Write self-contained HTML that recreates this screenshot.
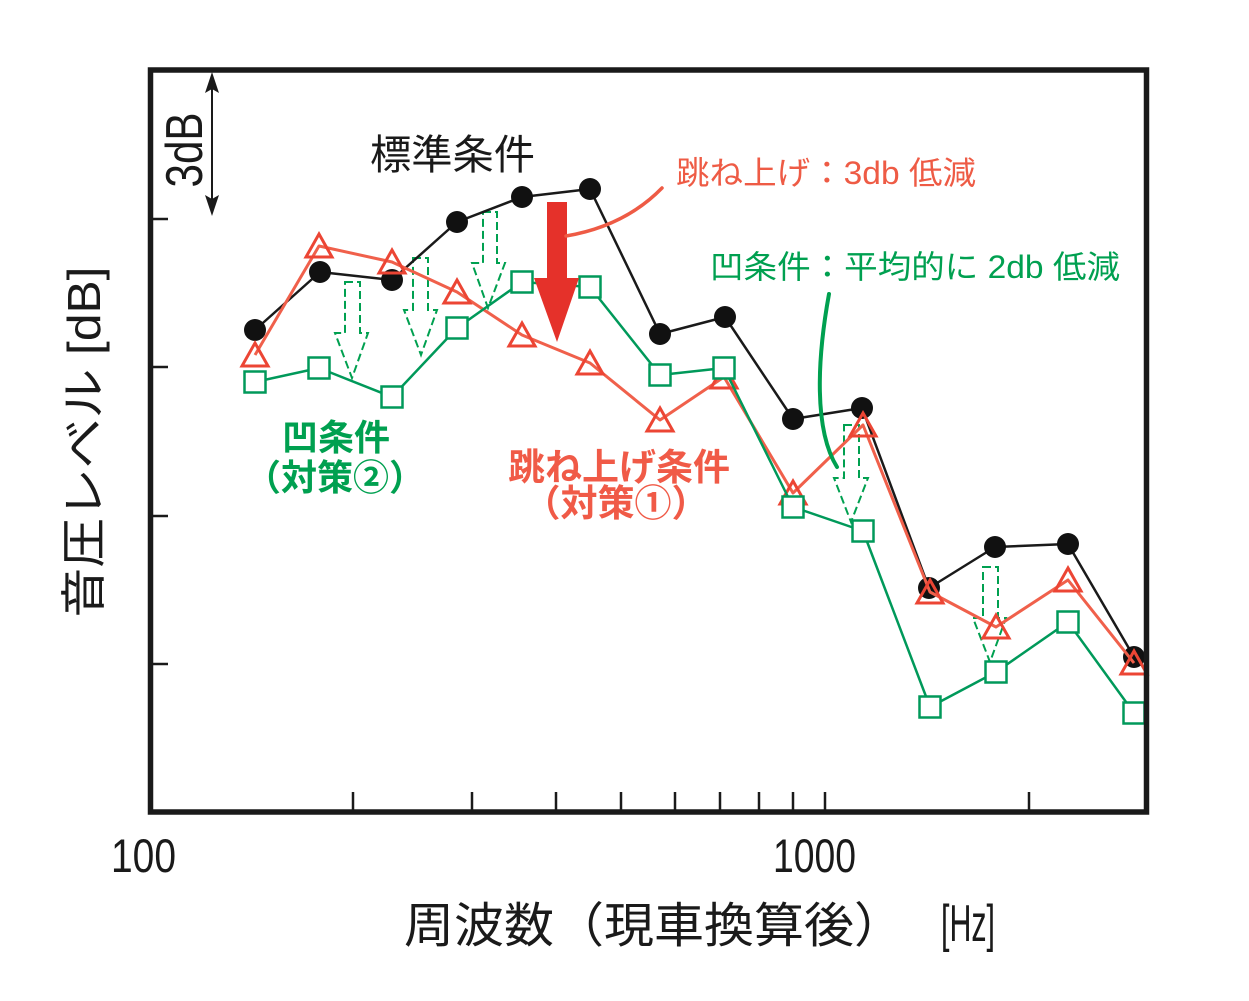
<!DOCTYPE html>
<html>
<head>
<meta charset="utf-8">
<style>
html,body{margin:0;padding:0;background:#fff;}
svg{display:block;}
.jp{font-family:"Liberation Sans","Noto Sans CJK JP",sans-serif;}
</style>
</head>
<body>
<svg width="1249" height="1001" viewBox="0 0 1249 1001" xmlns="http://www.w3.org/2000/svg">
<rect x="0" y="0" width="1249" height="1001" fill="#fff"/>

<!-- ticks -->
<g stroke="#1a1a1a" stroke-width="2.5">
  <line x1="150" y1="219" x2="168" y2="219"/>
  <line x1="150" y1="367" x2="168" y2="367"/>
  <line x1="150" y1="516" x2="168" y2="516"/>
  <line x1="150" y1="664" x2="168" y2="664"/>
  <line x1="353" y1="812" x2="353" y2="792"/>
  <line x1="472" y1="812" x2="472" y2="792"/>
  <line x1="556" y1="812" x2="556" y2="792"/>
  <line x1="621" y1="812" x2="621" y2="792"/>
  <line x1="675" y1="812" x2="675" y2="792"/>
  <line x1="720" y1="812" x2="720" y2="792"/>
  <line x1="759" y1="812" x2="759" y2="792"/>
  <line x1="793" y1="812" x2="793" y2="792"/>
  <line x1="825" y1="812" x2="825" y2="792"/>
  <line x1="1029" y1="812" x2="1029" y2="792"/>
</g>

<!-- 3dB double arrow -->
<line x1="212" y1="80" x2="212" y2="208" stroke="#1a1a1a" stroke-width="2"/>
<polygon points="212,72 219,93 212,89 205,93" fill="#1a1a1a"/>
<polygon points="212,216 219,195 212,199 205,195" fill="#1a1a1a"/>
<text transform="translate(202,150) rotate(-90)" text-anchor="middle" font-family="Liberation Sans, sans-serif" font-size="52" textLength="75" lengthAdjust="spacingAndGlyphs" fill="#1a1a1a">3dB</text>

<!-- dashed hollow arrows -->
<g fill="none" stroke="#00a050" stroke-width="2" stroke-dasharray="8,4">
  <path d="M345,282 L360,282 L360,333 L368,333 L352,378 L335,333 L345,333 Z"/>
  <path d="M413,258 L428,258 L428,310 L437,310 L421,355 L404,310 L413,310 Z"/>
  <path d="M483,212 L497,212 L497,263 L505,263 L488,308 L472,263 L483,263 Z"/>
  <path d="M844,425 L859,425 L859,478 L868,478 L851,522 L834,478 L844,478 Z"/>
  <path d="M983,567 L998,567 L998,618 L1006,618 L990,662 L973,618 L983,618 Z"/>
</g>

<!-- black series -->
<polyline fill="none" stroke="#1a1a1a" stroke-width="2.5" stroke-linejoin="round"
  points="255,330 320,272 392,280 457,222 522,197 590,189 660,334 725,317 793,419 862,408 929,588 995,547 1068,544 1134,657"/>
<g fill="#111">
  <circle cx="255" cy="330" r="11"/><circle cx="320" cy="272" r="11"/>
  <circle cx="392" cy="280" r="11"/><circle cx="457" cy="222" r="11"/>
  <circle cx="522" cy="197" r="11"/><circle cx="590" cy="189" r="11"/>
  <circle cx="660" cy="334" r="11"/><circle cx="725" cy="317" r="11"/>
  <circle cx="793" cy="419" r="11"/><circle cx="862" cy="408" r="11"/>
  <circle cx="929" cy="588" r="11"/><circle cx="995" cy="547" r="11"/>
  <circle cx="1068" cy="544" r="11"/><circle cx="1134" cy="657" r="11"/>
</g>

<!-- red series -->
<polyline fill="none" stroke="#f0604b" stroke-width="3" stroke-linejoin="round"
  points="255,355 319,246 392,262 457,292 522,335 590,363 660,420 724,377 793,493 863,425 930,592 996,627 1068,580 1134,663"/>
<g fill="none" stroke="#ec4534" stroke-width="3" stroke-linejoin="miter">
  <polygon points="255,343 268,366 242,366"/>
  <polygon points="319,234 332,257 306,257"/>
  <polygon points="392,250 405,273 379,273"/>
  <polygon points="457,280 470,303 444,303"/>
  <polygon points="522,323 535,346 509,346"/>
  <polygon points="590,351 603,374 577,374"/>
  <polygon points="660,408 673,431 647,431"/>
  <polygon points="724,365 737,388 711,388"/>
  <polygon points="793,481 806,504 780,504"/>
  <polygon points="863,413 876,436 850,436"/>
  <polygon points="930,580 943,603 917,603"/>
  <polygon points="996,615 1009,638 983,638"/>
  <polygon points="1068,568 1081,591 1055,591"/>
  <polygon points="1134,651 1147,674 1121,674"/>
</g>

<!-- green series -->
<polyline fill="none" stroke="#00995a" stroke-width="2.5" stroke-linejoin="round"
  points="255,382 319,368 392,397 457,328 522,282 590,287 660,375 724,368 793,507 863,531 930,707 996,672 1068,622 1134,713"/>
<g fill="#fff" stroke="#00995a" stroke-width="2.5">
  <rect x="244.5" y="371.5" width="21" height="21"/>
  <rect x="308.5" y="357.5" width="21" height="21"/>
  <rect x="381.5" y="386.5" width="21" height="21"/>
  <rect x="446.5" y="317.5" width="21" height="21"/>
  <rect x="511.5" y="271.5" width="21" height="21"/>
  <rect x="579.5" y="276.5" width="21" height="21"/>
  <rect x="649.5" y="364.5" width="21" height="21"/>
  <rect x="713.5" y="357.5" width="21" height="21"/>
  <rect x="782.5" y="496.5" width="21" height="21"/>
  <rect x="852.5" y="520.5" width="21" height="21"/>
  <rect x="919.5" y="696.5" width="21" height="21"/>
  <rect x="985.5" y="661.5" width="21" height="21"/>
  <rect x="1057.5" y="611.5" width="21" height="21"/>
  <rect x="1123.5" y="702.5" width="21" height="21"/>
</g>

<!-- big red arrow -->
<polygon points="547,202 567,202 567,278 579,278 557,342 534,278 547,278" fill="#e5312a"/>

<!-- callout curves -->
<path d="M662,188 Q625,226 566,236" fill="none" stroke="#ee5b45" stroke-width="3.5" stroke-linecap="round"/>
<path d="M829,294 C817,360 814,430 837,467" fill="none" stroke="#00a050" stroke-width="4" stroke-linecap="round"/>

<!-- annotations -->
<text class="jp" x="370" y="169" font-size="41" textLength="165" lengthAdjust="spacingAndGlyphs" fill="#1a1a1a">標準条件</text>
<text class="jp" x="676" y="184" font-size="32" textLength="300" lengthAdjust="spacingAndGlyphs" fill="#ee5b45">跳ね上げ：3db 低減</text>
<text class="jp" x="710" y="278" font-size="32" textLength="410" lengthAdjust="spacingAndGlyphs" fill="#00a050">凹条件：平均的に 2db 低減</text>

<text class="jp" x="336" y="450" font-size="36" font-weight="700" text-anchor="middle" fill="#00a050">凹条件</text>
<text class="jp" x="335" y="490" font-size="36" font-weight="700" text-anchor="middle" fill="#00a050">（対策②）</text>

<text class="jp" x="619" y="480" font-size="37" font-weight="700" text-anchor="middle" fill="#f05a47">跳ね上げ条件</text>
<text class="jp" x="616" y="516" font-size="37" font-weight="700" text-anchor="middle" fill="#f05a47">（対策①）</text>

<!-- axis labels -->
<text x="111" y="872" font-family="Liberation Sans, sans-serif" font-size="47" textLength="65" lengthAdjust="spacingAndGlyphs" fill="#1a1a1a">100</text>
<text x="773" y="872" font-family="Liberation Sans, sans-serif" font-size="47" textLength="83" lengthAdjust="spacingAndGlyphs" fill="#1a1a1a">1000</text>

<text class="jp" x="404" y="942" font-size="48" textLength="500" lengthAdjust="spacingAndGlyphs" fill="#1a1a1a">周波数（現車換算後）</text>
<text x="941" y="941" font-family="Liberation Sans, sans-serif" font-size="52" textLength="54" lengthAdjust="spacingAndGlyphs" fill="#1a1a1a">[Hz]</text>

<text class="jp" transform="translate(100,442) rotate(-90)" text-anchor="middle" font-size="46" textLength="351" lengthAdjust="spacingAndGlyphs" fill="#1a1a1a">音圧レベル [dB]</text>

<!-- frame -->
<rect x="150.5" y="70" width="996" height="742" fill="none" stroke="#1a1a1a" stroke-width="5.5"/>
</svg>
</body>
</html>
